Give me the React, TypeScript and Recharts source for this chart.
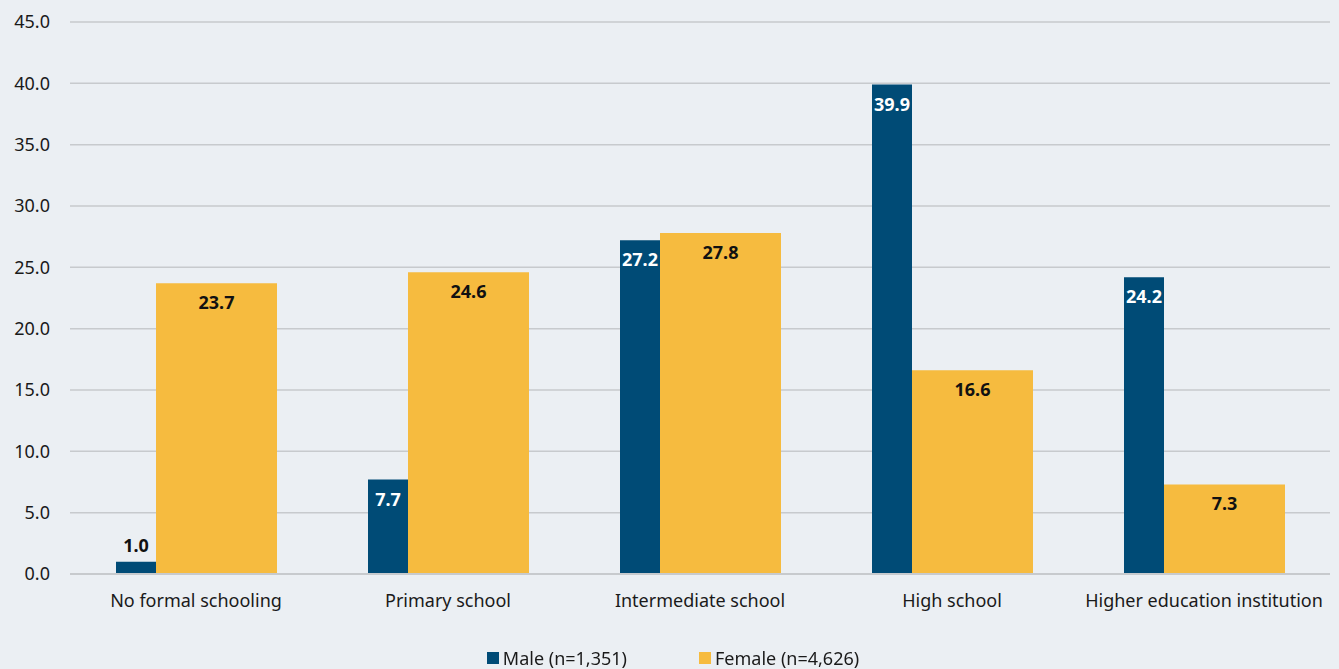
import { BarChart, Bar, XAxis, YAxis, CartesianGrid, Legend, LabelList } from "recharts";

const categories = [
  "No formal schooling",
  "Primary school",
  "Intermediate school",
  "High school",
  "Higher education institution",
];
const male = [1.0, 7.7, 27.2, 39.9, 24.2];
const female = [23.7, 24.6, 27.8, 16.6, 7.3];
const yTicks = [0, 5, 10, 15, 20, 25, 30, 35, 40, 45];

const seriesNames = ["Male (n=1,351)", "Female (n=4,626)"];
const seriesColors = ["#004b76", "#f6bb3f"];

const data = categories.map((name, i) => ({ name, male: male[i], female: female[i] }));

const FONT = "'Noto Sans', sans-serif";

const makeLabel = (inside: string) => (props: any) => {
  const { x, y, width, value } = props;
  const small = value < 3;
  return (
    <text
      x={x + width / 2}
      y={small ? y - 10 : y + 26}
      textAnchor="middle"
      fill={small ? "#111" : inside}
      fontWeight="bold"
      fontSize={18}
      fontFamily={FONT}
    >
      {Number(value).toFixed(1)}
    </text>
  );
};

const LegendContent = () => (
  <div style={{ display: "flex", justifyContent: "center", fontFamily: FONT, fontSize: 18, color: "#1a1a1a", paddingLeft: 16 }}>
    {seriesNames.map((n, i) => (
      <div key={n} style={{ display: "flex", alignItems: "center", marginRight: i === 0 ? 72 : 0 }}>
        <span style={{ display: "inline-block", width: 12, height: 12, background: seriesColors[i], marginRight: 4 }} />
        <span>{n}</span>
      </div>
    ))}
  </div>
);

export default function App() {
  return (
    <div style={{ position: "fixed", left: 0, top: 0, width: 1339, height: 669, background: "#ebeff3" }}>
      <BarChart
        width={1339}
        height={669}
        data={data}
        margin={{ top: 22, right: 9, left: 0, bottom: 0 }}
        barGap={0}
      >
        <CartesianGrid vertical={false} stroke="#c7cacd" strokeWidth={1.5} />
        <XAxis
          dataKey="name"
          tickLine={false}
          axisLine={{ stroke: "#c7cacd", strokeWidth: 2 }}
          tick={{ fill: "#1a1a1a", fontSize: 18, fontFamily: FONT }}
          tickMargin={14}
          height={70}
          interval={0}
        />
        <YAxis
          type="number"
          domain={[0, 45]}
          ticks={yTicks}
          tickFormatter={(v: number) => v.toFixed(1)}
          axisLine={false}
          tickLine={false}
          tickMargin={14}
          width={70}
          tick={{ fill: "#1a1a1a", fontSize: 18, fontFamily: FONT }}
        />
        <Legend height={25} wrapperStyle={{ bottom: -2 }} content={<LegendContent />} />
        <Bar dataKey="male" name={seriesNames[0]} fill={seriesColors[0]} barSize={40} isAnimationActive={false}>
          <LabelList dataKey="male" content={makeLabel("#ffffff")} />
        </Bar>
        <Bar dataKey="female" name={seriesNames[1]} fill={seriesColors[1]} barSize={121} isAnimationActive={false}>
          <LabelList dataKey="female" content={makeLabel("#111111")} />
        </Bar>
      </BarChart>
    </div>
  );
}
